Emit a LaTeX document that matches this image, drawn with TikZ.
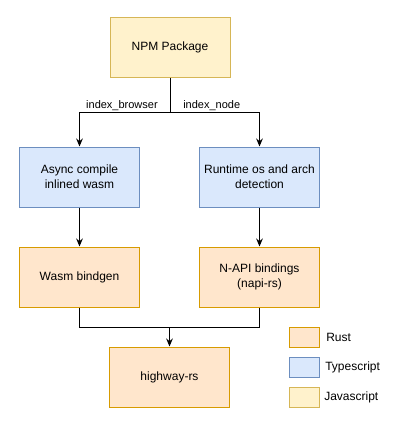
\documentclass[tikz,border=0pt]{standalone}
\usepackage{fontspec}
\setmainfont{Liberation Sans}
\usetikzlibrary{arrows.meta}
\definecolor{rustfill}{HTML}{FFE6CC}\definecolor{rustline}{HTML}{D79B00}
\definecolor{tsfill}{HTML}{DAE8FC}\definecolor{tsline}{HTML}{6C8EBF}
\definecolor{jsfill}{HTML}{FFF2CC}\definecolor{jsline}{HTML}{D6B656}
\tikzset{
  box/.style={minimum width=90pt,minimum height=45pt,inner sep=0pt,align=center,font=\fontsize{9}{11}\selectfont,line width=0.75pt},
  rust/.style={box,fill=rustfill,draw=rustline},
  ts/.style={box,fill=tsfill,draw=tsline},
  js/.style={box,fill=jsfill,draw=jsline},
  leg/.style={minimum width=22.5pt,minimum height=15pt,inner sep=0pt,line width=0.75pt},
  legtxt/.style={anchor=west,inner sep=0pt,font=\fontsize{9}{11}\selectfont},
  lbl/.style={inner sep=0pt,font=\fontsize{8.25}{10}\selectfont},
  arr/.style={line width=0.75pt,-{Stealth[length=6pt,width=5pt]}},
  ln/.style={line width=0.75pt}
}
\begin{document}
\begin{tikzpicture}[x=0.75pt,y=-0.75pt]
\useasboundingbox (0,0) rectangle (400,425);
\node[js] (npm) at (170,47) {NPM Package};
\node[ts] (async) at (79.5,177) {Async compile\\inlined wasm};
\node[ts] (run) at (259.5,177) {Runtime os and arch\\detection};
\node[rust] (wasm) at (79.5,277) {Wasm bindgen};
\node[rust] (napi) at (259.5,277) {N-API bindings\\(napi-rs)};
\node[rust] (hw) at (169.5,377) {highway-rs};
\coordinate (s) at (170,112);
\coordinate (m) at (169.5,327.5);
\draw[ln] (npm.south) -- (s);
\draw[arr] (s) -| (async.north);
\draw[arr] (s) -| (run.north);
\node[lbl,anchor=base east] (lb) at (158,108) {index\_browser};
\node[lbl,anchor=base west] (ln) at (183,108) {index\_node};
\draw[arr] (async.south) -- (wasm.north);
\draw[arr] (run.south) -- (napi.north);
\draw[ln] (wasm.south) |- (m);
\draw[ln] (napi.south) |- (m);
\draw[arr] (m) -- (hw.north);
\node[leg,fill=rustfill,draw=rustline] (l1) at (304.5,337.5) {};
\node[leg,fill=tsfill,draw=tsline] (l2) at (304.5,367.5) {};
\node[leg,fill=jsfill,draw=jsline] (l3) at (304.5,397.5) {};
\node[legtxt] (t1) at (326,337.5) {Rust};
\node[legtxt] (t2) at (325,367.5) {Typescript};
\node[legtxt] (t3) at (324,397.5) {Javascript};
\end{tikzpicture}
\end{document}
